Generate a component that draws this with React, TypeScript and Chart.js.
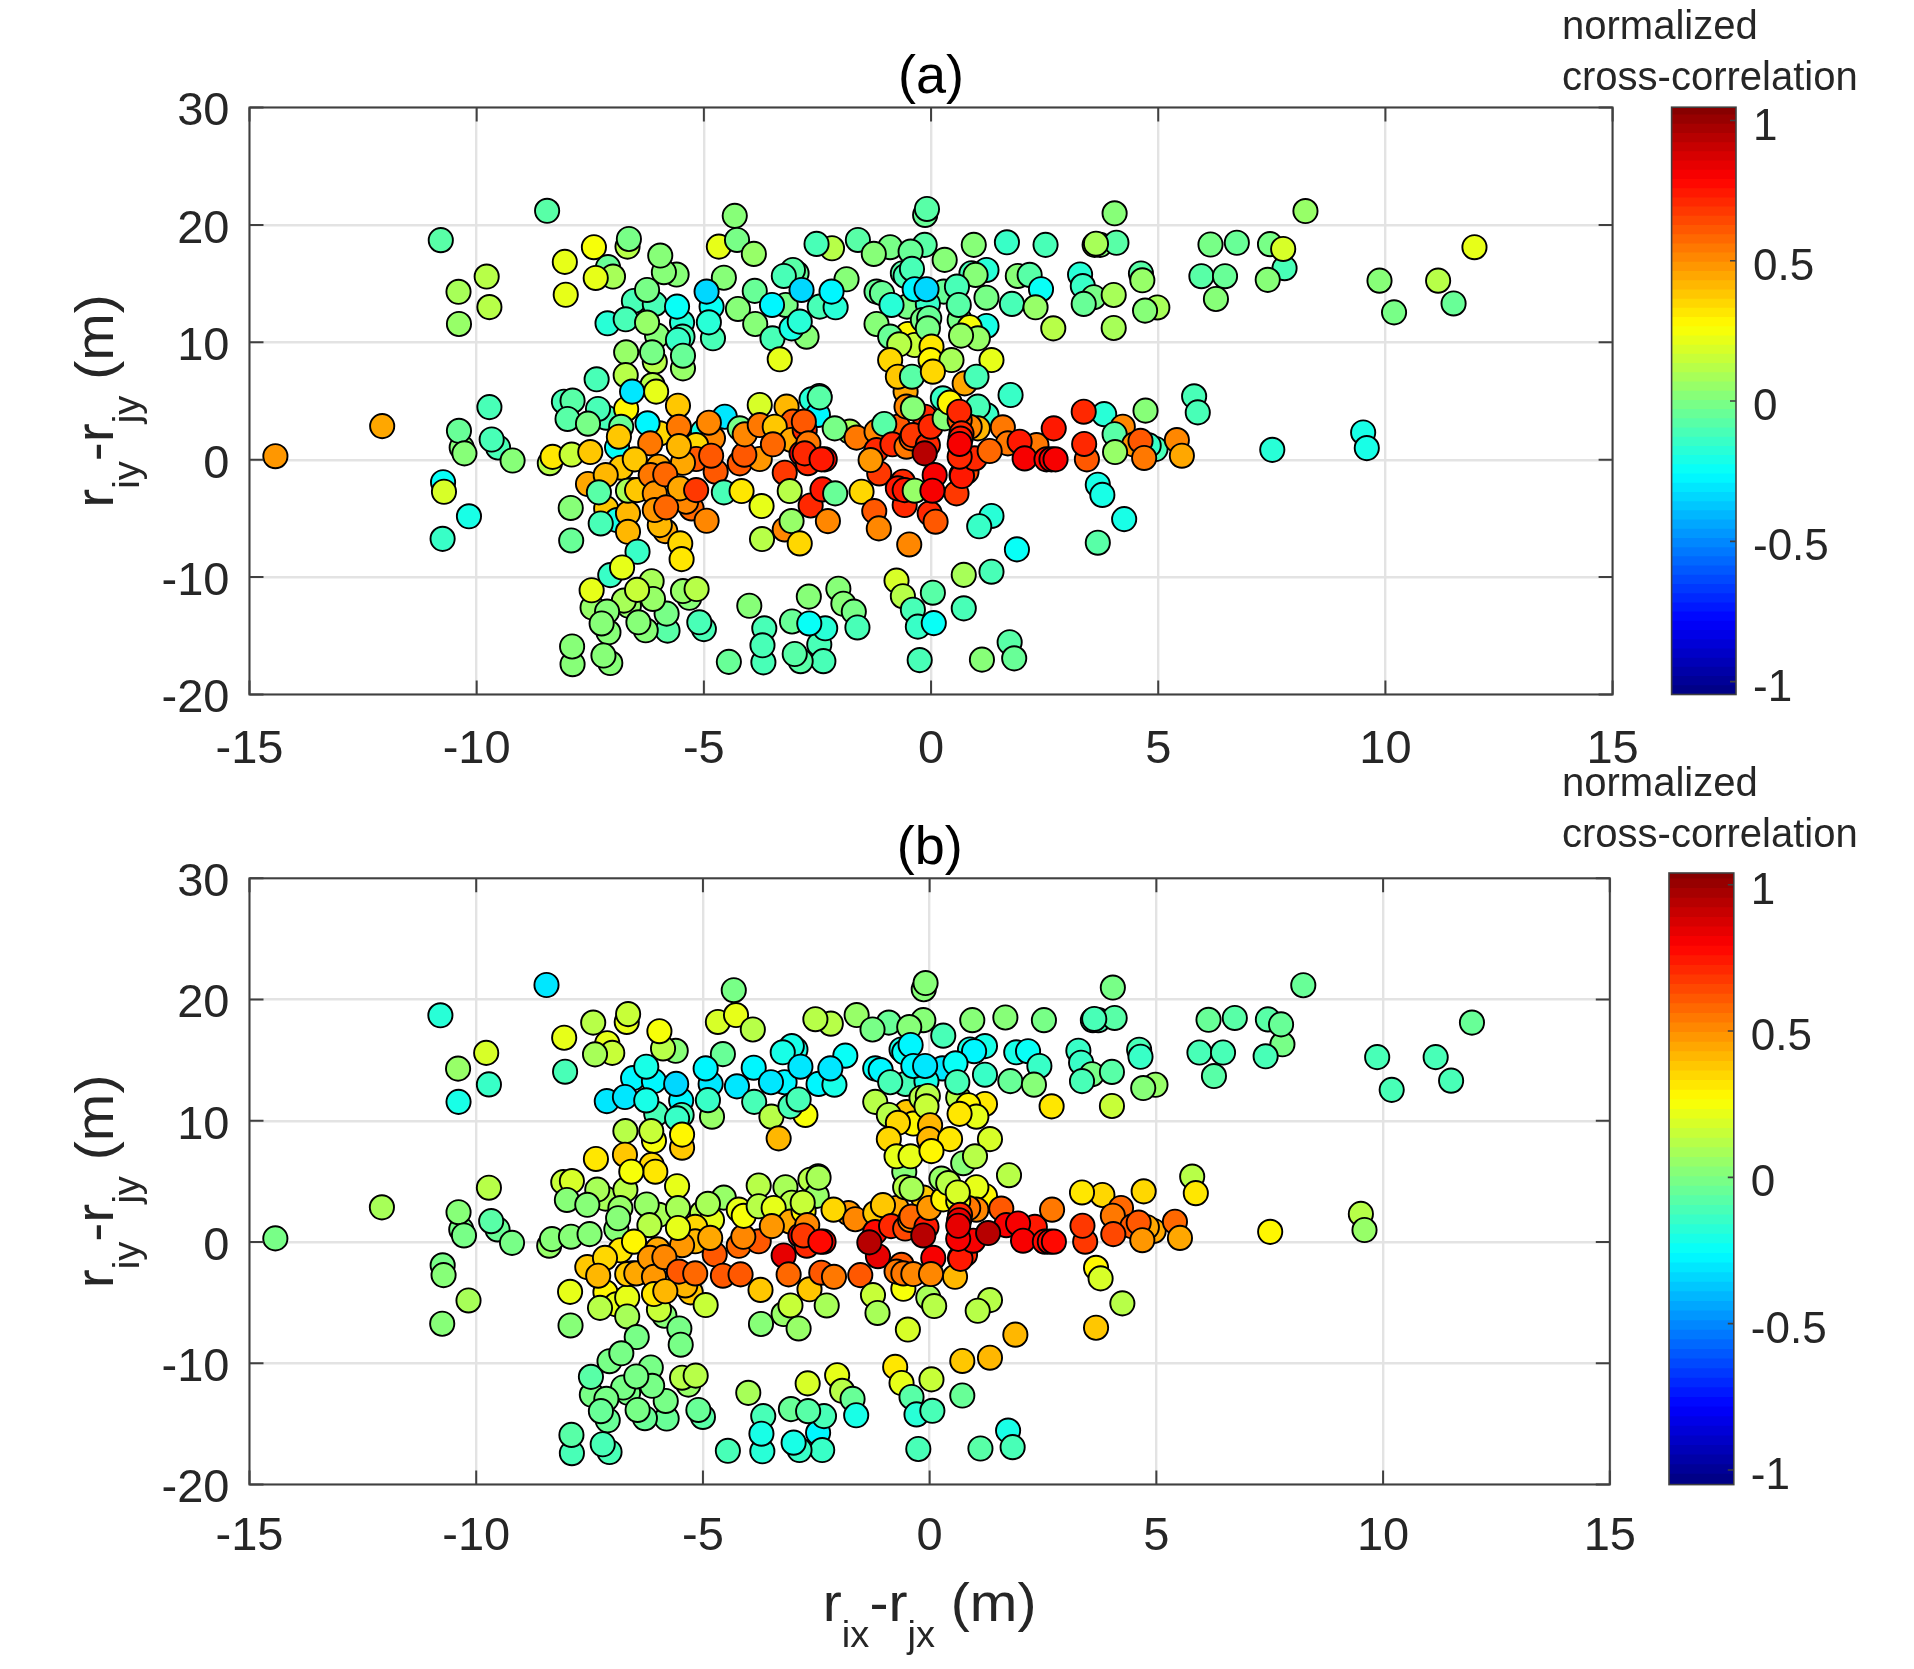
import React, { useEffect, useRef } from "react";
import { Chart, registerables } from "chart.js";

Chart.register(...registerables);

// Each row: [rix-rjx, riy-rjy, correlation in (a), correlation in (b)]
const farLeft: number[][] = [
  [-14.43,0.3,0.48,-0.03],[-12.08,2.86,0.44,0.08],[-10.79,18.7,-0.08,-0.18],[-9.78,15.6,0.1,0.17],[-10.4,14.3,0.07,0.05],
  [-9.72,13.0,0.1,-0.15],[-10.39,11.56,0.05,-0.22],[-9.72,4.48,-0.1,0.1],[-10.33,1.04,0.0,-0.02],[-10.39,2.46,-0.05,0.0],
  [-10.27,0.54,0.03,-0.02],[-9.53,1.04,-0.1,-0.05],[-9.67,1.72,-0.1,-0.07],[-9.21,-0.07,0.03,-0.02],[-10.74,-1.92,-0.25,-0.02],
  [-10.72,-2.73,0.17,0.02],[-10.17,-4.82,-0.2,0.07],[-10.75,-6.74,-0.15,0.02],[-8.45,21.2,-0.07,-0.32],[-8.06,16.85,0.2,0.2],
  [-8.04,14.05,0.2,-0.13],[-8.39,-0.3,0.1,0.05],[-8.33,0.24,0.3,0.0],[-7.91,0.44,0.15,0.02],[-7.93,-4.11,0.0,0.22],[-7.92,-6.88,-0.05,0.03],
];

const topCluster: number[][] = [
  [-7.42,18.1,0.23,0.12],[-6.68,18.15,0.12,0.22],[-6.65,18.8,-0.03,0.16],[-7.11,16.4,-0.05,0.2],[-7.0,15.6,0.08,0.15],
  [-7.38,15.48,0.2,0.08],[-5.6,15.77,0.03,0.03],[-5.88,15.97,0.02,0.1],[-5.96,17.39,0.03,0.23],[-4.56,15.5,0.03,-0.05],
  [-4.67,18.15,0.2,0.17],[-4.32,20.77,0.03,-0.03],[-4.27,18.72,-0.03,0.2],[-3.9,17.53,0.04,0.12],[-6.54,13.52,-0.12,-0.28],
  [-6.08,13.27,-0.13,-0.28],[-6.25,14.46,-0.02,-0.2],[-5.48,11.68,-0.18,-0.27],[-5.59,13.04,-0.26,-0.33],[-7.12,11.62,-0.18,-0.3],
  [-6.72,11.96,-0.13,-0.3],[-6.03,10.57,0.02,-0.12],[-6.25,11.68,0.05,-0.22],[-5.47,10.48,-0.1,-0.12],[-5.57,10.2,-0.15,-0.15],
  [-6.08,8.35,0.1,0.25],[-6.14,9.15,-0.03,0.15],[-6.71,9.15,0.06,0.12],[-5.46,7.78,0.05,0.38],[-5.46,8.86,-0.06,0.28],
  [-4.8,10.34,-0.13,0.04],[-4.83,13.04,-0.25,-0.3],[-4.89,11.7,-0.18,-0.15],[-4.94,14.32,-0.33,-0.28],[-4.25,12.84,0.0,-0.3],
  [-3.88,14.38,-0.05,-0.28],[-3.87,11.56,0.0,-0.13],[-3.49,10.34,-0.12,0.1],[-3.33,8.55,0.2,0.42],[-2.96,15.88,-0.05,-0.2],
  [-3.04,16.16,-0.07,-0.2],[-3.24,15.65,-0.1,-0.22],[-3.2,13.18,-0.02,-0.28],[-3.5,13.18,-0.27,-0.3],[-2.74,10.48,0.03,0.26],
  [-3.07,11.19,-0.2,-0.1],[-2.89,11.76,-0.18,-0.1],[-2.85,14.46,-0.35,-0.3],[-1.86,15.37,0.03,-0.25],[-2.18,18.01,0.13,0.1],
  [-2.52,18.38,-0.1,0.1],[-2.45,13.04,-0.1,-0.28],[-2.1,12.98,-0.17,-0.22],[-2.19,14.32,-0.27,-0.3],[-1.61,18.72,-0.07,0.05],
  [-0.9,18.1,-0.02,-0.05],[-1.26,17.53,0.0,-0.02],[-0.14,18.3,-0.07,0.0],[-0.45,17.73,-0.06,0.0],[-0.13,20.85,-0.05,0.0],
  [-0.09,21.36,-0.08,0.03],[-1.2,14.32,-0.05,-0.26],[-1.08,14.18,-0.05,-0.28],[-0.53,13.04,-0.02,-0.12],[-0.87,13.18,-0.17,-0.12],
  [-0.62,15.88,-0.07,-0.2],[-0.56,15.65,-0.12,-0.25],[-0.42,16.25,-0.13,-0.27],[-1.2,11.56,0.02,0.1],[0.28,14.32,-0.05,-0.3],
  [-0.07,13.27,-0.15,-0.2],[-0.36,14.52,-0.27,-0.28],[-0.1,14.52,-0.33,-0.3],[-0.51,10.71,0.27,0.38],[-0.18,11.9,-0.03,0.13],
  [-0.04,12.05,-0.04,0.1],[-0.36,9.77,0.15,0.27],[-0.9,10.48,-0.05,0.1],[-0.7,9.83,0.1,0.35],[-0.07,11.19,-0.02,0.15],
  [0.3,17.02,0.03,-0.12],[0.94,18.3,0.03,0.0],[1.67,18.52,-0.15,0.03],[2.52,18.3,-0.1,-0.03],[3.6,18.3,0.08,-0.08],
  [1.22,16.16,-0.18,-0.2],[0.89,15.88,-0.13,-0.22],[0.98,15.74,0.0,-0.27],[1.91,15.65,0.02,-0.22],[2.17,15.74,-0.07,-0.25],
  [2.42,14.52,-0.25,-0.15],[0.57,14.74,-0.13,-0.25],[0.63,11.9,-0.02,0.1],[0.61,13.18,-0.07,-0.12],[1.22,13.8,-0.02,-0.15],
  [1.78,13.27,-0.12,-0.05],[2.3,12.98,0.05,0.03],[2.69,11.19,0.12,0.3],[1.22,11.39,-0.2,0.3],[0.85,11.28,0.25,0.28],
  [1.03,10.34,0.05,0.2],[0.66,10.57,0.06,0.32],[-0.9,8.49,0.33,0.36],[0.01,9.63,0.3,0.4],[-0.01,8.49,0.28,0.42],[0.45,8.49,0.08,0.3],[1.33,8.49,0.2,0.17],
];

const rightCluster: number[][] = [
  [4.04,20.99,0.0,-0.03],[8.24,21.18,0.05,-0.05],[3.72,18.3,0.03,-0.1],[4.08,18.48,-0.07,-0.08],[3.63,18.4,0.08,-0.1],
  [6.15,18.33,-0.02,-0.06],[6.73,18.48,-0.04,-0.07],[7.46,18.36,-0.03,-0.08],[7.78,16.31,-0.13,-0.03],[7.75,17.95,0.17,-0.05],
  [7.41,15.32,0.03,-0.12],[11.96,18.1,0.2,-0.06],[9.87,15.25,0.0,-0.1],[11.16,15.25,0.13,-0.1],[10.19,12.55,-0.02,-0.13],
  [11.5,13.31,-0.05,-0.13],[5.95,15.63,-0.07,-0.1],[6.47,15.63,-0.06,-0.1],[6.27,13.69,0.0,-0.07],[3.28,15.78,-0.17,-0.15],
  [3.34,14.79,-0.15,-0.15],[3.58,13.84,-0.03,-0.03],[3.36,13.27,-0.06,-0.1],[4.02,14.03,0.08,-0.08],[4.62,15.86,-0.08,-0.13],
  [4.65,15.28,0.06,-0.15],[4.98,12.97,0.07,0.05],[4.71,12.7,0.02,0.02],[4.02,11.22,0.07,0.15],[3.81,3.88,-0.17,0.33],
  [4.72,4.18,0.02,0.33],[5.79,5.4,-0.13,0.12],[5.87,4.03,-0.13,0.3],[4.22,2.81,0.5,0.58],[4.04,2.17,-0.08,0.55],
  [4.94,0.91,-0.12,0.45],[4.79,1.22,-0.15,0.45],[4.47,1.29,0.48,0.6],[4.61,1.6,0.6,0.6],[4.05,0.65,0.05,0.65],
  [4.69,0.15,0.55,0.47],[5.41,1.67,0.5,0.58],[5.52,0.34,0.45,0.43],[7.51,0.84,-0.18,0.27],[9.51,2.32,-0.2,0.1],
  [9.59,0.99,-0.2,0.05],[3.67,-2.13,-0.2,0.28],[3.77,-3.0,-0.2,0.17],[4.25,-5.06,-0.2,0.1],[3.67,-7.07,-0.08,0.38],
  [1.89,-7.64,-0.23,0.4],[1.33,-4.79,-0.17,0.1],[1.06,-5.67,-0.15,0.13],[1.33,-9.54,-0.13,0.42],[0.72,-9.81,0.07,0.37],
];

const midLeft: number[][] = [
  [-8.08,4.94,-0.1,0.15],[-7.89,5.03,-0.08,0.18],[-8.0,3.47,-0.07,0.03],[-7.36,6.85,-0.1,0.32],[-7.15,3.58,-0.12,0.07],
  [-7.33,4.32,-0.13,0.07],[-7.55,3.07,-0.03,0.0],[-6.13,6.36,0.1,0.33],[-6.05,5.8,0.2,0.32],[-6.72,7.2,0.1,0.38],
  [-6.71,4.32,0.27,0.1],[-6.58,5.8,-0.3,0.25],[-5.57,4.6,0.38,0.2],[-6.82,2.8,-0.05,0.05],[-6.91,1.05,-0.25,0.03],
  [-6.87,1.96,0.37,0.03],[-5.97,2.24,0.35,0.08],[-6.24,3.1,-0.28,0.05],[-6.18,1.39,0.55,0.1],[-5.55,2.8,0.55,0.08],
  [-5.02,2.39,-0.2,0.1],[-4.54,3.66,-0.3,0.05],[-4.8,1.82,0.52,0.2],[-4.89,3.15,0.5,0.08],[-5.17,1.25,0.35,0.35],
  [-5.17,0.06,0.62,0.42],[-6.82,-0.68,0.38,0.3],[-7.5,0.65,0.38,0.03],[-6.0,-0.6,0.44,0.44],[-6.52,0.03,0.37,0.27],
  [-5.46,-0.26,0.45,0.47],[-5.55,1.16,0.42,0.2],[-4.74,-1.02,0.6,0.6],[-4.84,0.34,0.62,0.45],[-4.21,-0.31,0.6,0.58],
  [-4.21,2.67,-0.02,0.2],[-3.77,0.06,0.47,0.62],[-4.11,0.43,0.6,0.52],[-4.1,2.16,0.5,0.26],[-3.77,4.66,0.17,0.1],
  [-3.18,4.52,0.42,0.08],[-3.04,3.24,0.6,0.12],[-3.77,2.95,0.55,0.12],[-3.44,2.81,0.37,0.2],[-3.07,1.68,0.45,0.45],
  [-3.48,1.31,0.58,0.48],[-2.85,0.54,0.8,0.8],[-3.22,-1.11,0.67,0.85],[-2.46,5.43,-0.08,0.08],[-2.63,5.14,-0.18,0.1],
  [-2.49,3.81,-0.27,0.05],[-2.45,5.31,-0.08,0.08],[-2.78,2.53,0.7,0.28],[-2.8,3.24,0.6,0.15],[-2.7,1.39,0.55,0.5],
  [-2.71,-0.3,0.7,0.7],[-2.78,0.54,0.72,0.68],[-2.34,0.03,0.78,0.78],[-2.41,0.03,0.75,0.78],[-1.79,2.39,0.07,0.46],
  [-2.12,2.67,-0.02,0.33],[-1.64,1.88,0.55,0.5],
];

const midLower: number[][] = [
  [-7.55,-2.07,0.45,0.38],[-7.16,-1.31,0.42,0.36],[-7.15,-4.15,0.38,0.27],[-6.91,-5.14,-0.2,0.2],[-7.31,-2.78,-0.08,0.42],
  [-6.67,-4.57,0.42,0.2],[-6.67,-6.14,0.4,0.07],[-7.27,-5.43,-0.1,0.12],[-6.46,-7.84,-0.15,-0.03],[-7.06,-9.83,-0.15,-0.03],
  [-6.8,-9.18,0.2,-0.03],[-6.56,-2.59,0.12,0.38],[-6.67,-2.64,0.08,0.37],[-6.47,-2.59,0.38,0.45],[-6.17,-1.31,0.53,0.48],
  [-6.08,-2.87,0.47,0.47],[-5.85,-1.25,0.57,0.5],[-5.85,-6.08,0.43,0.03],[-5.97,-5.57,0.42,0.14],[-5.27,-4.15,0.58,0.37],
  [-6.08,-4.29,0.46,0.3],[-5.39,-3.58,0.52,0.4],[-5.53,-2.44,0.44,0.6],[-5.17,-2.59,0.68,0.58],[-5.83,-4.06,0.58,0.4],
  [-4.94,-5.2,0.5,0.16],[-5.52,-7.13,0.34,-0.03],[-5.49,-8.47,0.3,-0.02],[-4.56,-2.78,-0.12,0.6],[-4.17,-2.67,0.3,0.62],
  [-3.73,-3.95,0.2,0.37],[-3.72,-6.76,0.13,0.0],[-3.22,-5.94,0.5,0.06],[-3.07,-5.23,0.06,0.15],[-3.11,-2.67,0.1,0.58],
  [-2.89,-7.13,0.35,0.05],[-2.65,-3.9,0.7,0.38],[-2.27,-5.23,0.52,0.08],[-2.39,-2.53,0.75,0.62],[-2.11,-2.87,-0.05,0.55],
  [-1.53,-2.73,0.33,0.6],[-1.25,-4.38,0.6,0.15],[-1.15,-5.85,0.5,0.07],[-0.48,-7.22,0.52,0.18],
];

const midCentre: number[][] = [
  [-0.56,5.8,0.45,0.03],[-0.73,7.07,0.38,0.2],[-0.42,7.07,-0.08,0.2],[0.04,7.5,0.35,0.28],[0.74,6.5,0.45,0.0],
  [1.0,7.07,-0.1,0.1],[-1.2,2.39,0.5,0.38],[-0.73,2.81,0.6,0.45],[-1.03,3.04,-0.07,0.38],[-1.2,0.82,0.7,0.78],
  [-0.85,1.31,0.7,0.7],[-1.14,-1.17,0.68,0.85],[-1.33,-0.03,0.47,0.95],[-0.54,1.11,0.55,0.65],[-0.43,1.82,0.62,0.5],
  [-0.14,3.66,0.7,0.38],[-0.54,4.52,0.5,0.12],[-0.4,4.38,0.0,0.07],[-0.4,2.1,0.68,0.58],[-0.07,1.25,0.72,0.75],
  [-0.01,2.81,0.72,0.48],[-0.14,0.54,0.92,0.92],[-0.62,-1.88,0.72,0.62],[-0.58,-3.86,0.72,0.26],[-0.73,-2.44,0.75,0.55],
  [-0.58,-2.59,0.73,0.55],[-0.36,-2.64,0.05,0.52],[0.08,-1.31,0.82,0.8],[-0.03,-4.57,0.7,0.08],[0.1,-5.28,0.6,0.1],
  [0.56,-2.87,0.68,0.42],[0.03,-2.64,0.8,0.5],[0.3,3.52,0.03,0.28],[0.26,5.23,-0.15,0.05],[0.41,4.86,0.28,0.12],
  [1.22,3.8,-0.14,0.27],[1.03,4.52,-0.12,0.2],[1.03,2.67,0.4,0.52],[0.85,2.8,0.52,0.55],[0.63,3.38,0.6,0.22],
  [0.62,4.09,0.72,0.18],[0.78,-1.02,0.65,0.7],[0.67,-1.31,0.75,0.72],[0.68,-1.39,0.75,0.75],[0.96,0.11,0.7,0.8],
  [0.63,0.26,0.7,0.82],[0.67,2.24,0.7,0.7],[0.65,1.8,0.75,0.85],[0.63,1.34,0.8,0.85],[1.58,2.76,0.55,0.62],
  [1.69,1.39,0.55,0.8],[1.29,0.74,0.58,0.92],[2.32,1.25,0.55,0.75],[1.95,1.53,0.75,0.82],[2.06,0.11,0.82,0.82],
  [2.54,0.03,0.78,0.78],[2.65,0.03,0.82,0.78],[2.74,0.03,0.82,0.78],[2.7,2.67,0.75,0.55],[3.36,4.09,0.7,0.3],
  [3.43,0.03,0.62,0.68],[3.37,1.34,0.72,0.68],[1.75,5.51,-0.15,0.1],
];

const bottomCluster: number[][] = [
  [0.04,-11.33,-0.07,0.15],[-0.76,-10.3,0.18,0.3],[-0.62,-11.63,0.1,0.2],[-0.4,-12.78,-0.1,-0.08],[-0.29,-14.22,-0.15,-0.18],
  [0.06,-13.92,-0.23,-0.13],[0.72,-12.66,-0.12,-0.05],[1.73,-15.55,-0.08,-0.2],[1.83,-16.92,-0.05,-0.13],[1.12,-17.03,0.0,-0.08],
  [-0.25,-17.07,-0.1,-0.13],[-2.46,-15.74,-0.1,-0.28],[-2.37,-17.16,-0.1,-0.15],[-2.33,-14.36,-0.18,-0.1],[-3.06,-13.78,-0.05,-0.04],
  [-2.68,-13.95,-0.23,-0.07],[-2.87,-17.16,-0.08,-0.15],[-3.0,-16.55,-0.07,-0.2],[-2.04,-10.99,0.03,0.2],[-1.93,-12.27,0.03,0.1],
  [-1.7,-12.94,-0.03,-0.04],[-1.62,-14.29,-0.1,-0.2],[-2.69,-11.66,0.0,0.18],[-4.0,-12.44,0.0,0.08],[-3.67,-14.36,-0.1,-0.1],
  [-3.69,-17.26,-0.1,-0.18],[-3.71,-15.81,-0.1,-0.2],[-4.45,-17.22,-0.05,-0.13],[-5.0,-14.43,-0.13,-0.08],[-5.1,-13.85,-0.1,-0.05],
  [-5.32,-11.76,0.03,0.05],[-5.46,-11.19,0.05,0.1],[-5.16,-11.02,0.12,0.1],[-5.8,-14.56,-0.07,-0.06],[-5.82,-13.11,-0.03,-0.01],
  [-6.15,-10.35,0.07,-0.03],[-6.12,-11.86,0.05,-0.02],[-6.65,-12.44,0.05,-0.02],[-6.76,-12.0,0.08,-0.02],[-6.47,-11.09,0.15,-0.03],
  [-6.28,-14.53,0.0,-0.05],[-6.44,-13.85,0.03,-0.03],[-7.45,-12.6,0.05,-0.03],[-7.13,-12.94,0.03,-0.03],[-7.47,-11.12,0.22,-0.07],
  [-7.1,-14.7,0.02,-0.06],[-7.25,-13.95,0.0,-0.04],[-7.89,-17.42,0.02,-0.1],[-7.9,-15.91,0.02,-0.09],[-7.06,-17.32,0.03,-0.13],
  [-7.21,-16.68,0.0,-0.12],
];

const pointGroups = [topCluster, farLeft, bottomCluster, rightCluster, midLeft, midLower, midCentre];

const xTickValues = [-15, -10, -5, 0, 5, 10, 15];
const yTickValues = [-20, -10, 0, 10, 20, 30];
const colorbarTicks = [-1, -0.5, 0, 0.5, 1];
const colorLimit = 1.05;
const colorLevels = 64;

const FONT = "'Liberation Sans', Arial, sans-serif";
const AXIS = "#404040";
const TEXT = "#262626";

function jet(f: number): string {
  const ramp = (d: number) => Math.max(0, Math.min(1, 1.5 - Math.abs(4 * f - d)));
  const c = (v: number) => Math.round(v * 255);
  return `rgb(${c(ramp(3))},${c(ramp(2))},${c(ramp(1))})`;
}
function corrColor(v: number): string {
  const f = (Math.max(-colorLimit, Math.min(colorLimit, v)) + colorLimit) / (2 * colorLimit);
  const level = Math.min(colorLevels - 1, Math.floor(f * colorLevels));
  return jet((level + 0.5) / colorLevels);
}

type Run = { t: string; sub?: boolean };
const yTitleRuns: Run[] = [{ t: "r" }, { t: "iy", sub: true }, { t: "-r" }, { t: "jy", sub: true }, { t: " (m)" }];
const xTitleRuns: Run[] = [{ t: "r" }, { t: "ix", sub: true }, { t: "-r" }, { t: "jx", sub: true }, { t: " (m)" }];

function drawRuns(ctx: CanvasRenderingContext2D, runs: Run[], cx: number, base: number, size: number, subSize: number, subDrop: number) {
  let total = 0;
  const widths = runs.map((r) => {
    ctx.font = `${r.sub ? subSize : size}px ${FONT}`;
    const w = ctx.measureText(r.t).width;
    total += w;
    return w;
  });
  ctx.save();
  ctx.translate(cx, base);
  ctx.scale(1.058, 1);
  let x = -total / 2;
  ctx.textAlign = "left";
  ctx.textBaseline = "alphabetic";
  ctx.fillStyle = TEXT;
  runs.forEach((r, i) => {
    ctx.font = `${r.sub ? subSize : size}px ${FONT}`;
    ctx.fillText(r.t, x, r.sub ? subDrop : 0);
    x += widths[i];
  });
  ctx.restore();
}

const W = 1914;

type PanelProps = {
  top: number;
  height: number;
  areaLeft: number;
  areaRight: number;
  areaTop: number;
  areaBottom: number;
  corrIndex: number;
  title: string;
  titleY: number;
  showXTitle: boolean;
  xTitleY: number;
  xTickGap: number;
};

function Panel(p: PanelProps) {
  const ref = useRef<HTMLCanvasElement>(null);
  useEffect(() => {
    const rows = pointGroups.flat();
    const chart = new Chart(ref.current!, {
      type: "scatter",
      data: {
        datasets: [
          {
            data: rows.map((r) => ({ x: r[0], y: r[1] })),
            pointRadius: 12.1,
            pointHoverRadius: 12.1,
            pointBorderWidth: 1.9,
            pointBorderColor: "#000000",
            pointBackgroundColor: rows.map((r) => corrColor(r[p.corrIndex])),
          },
        ],
      },
      options: {
        responsive: false,
        animation: false,
        devicePixelRatio: 1,
        layout: { padding: { left: 0, top: p.areaTop - p.top, right: W - p.areaRight, bottom: 0 } },
        plugins: { legend: { display: false }, tooltip: { enabled: false } },
        scales: {
          x: {
            type: "linear",
            min: -15,
            max: 15,
            afterBuildTicks: (s: any) => { s.ticks = xTickValues.map((value) => ({ value })); },
            afterFit: (s: any) => { s.height = p.height - (p.areaBottom - p.top); },
            ticks: { autoSkip: false, maxRotation: 0, padding: p.xTickGap, color: TEXT, font: { family: FONT, size: 47 }, callback: (v: any) => String(v) },
            grid: { color: "#e3e3e3", lineWidth: 2.4, drawTicks: false },
            border: { display: false },
          },
          y: {
            type: "linear",
            min: -20,
            max: 30,
            afterBuildTicks: (s: any) => { s.ticks = yTickValues.map((value) => ({ value })); },
            afterFit: (s: any) => { s.width = p.areaLeft; },
            ticks: { autoSkip: false, padding: 20, labelOffset: 5, color: TEXT, font: { family: FONT, size: 47 }, callback: (v: any) => String(v) },
            grid: { color: "#e3e3e3", lineWidth: 2.4, drawTicks: false },
            border: { display: false },
          },
        },
      },
      plugins: [
        {
          id: "matlabFrame",
          afterDraw(c: any) {
            const { ctx, chartArea: a, scales } = c;
            ctx.save();
            ctx.strokeStyle = AXIS;
            ctx.lineWidth = 2;
            ctx.strokeRect(a.left, a.top, a.right - a.left, a.bottom - a.top);
            const len = 14;
            ctx.beginPath();
            xTickValues.forEach((v) => {
              const x = scales.x.getPixelForValue(v);
              ctx.moveTo(x, a.bottom); ctx.lineTo(x, a.bottom - len);
              ctx.moveTo(x, a.top); ctx.lineTo(x, a.top + len);
            });
            yTickValues.forEach((v) => {
              const y = scales.y.getPixelForValue(v);
              ctx.moveTo(a.left, y); ctx.lineTo(a.left + len, y);
              ctx.moveTo(a.right, y); ctx.lineTo(a.right - len, y);
            });
            ctx.stroke();
            ctx.fillStyle = "#000000";
            ctx.font = `54px ${FONT}`;
            ctx.textAlign = "center";
            ctx.textBaseline = "alphabetic";
            ctx.fillText(p.title, (a.left + a.right) / 2, p.titleY - p.top);
            ctx.save();
            ctx.translate(113, (a.top + a.bottom) / 2);
            ctx.rotate(-Math.PI / 2);
            drawRuns(ctx, yTitleRuns, 0, 0, 54, 36, 26);
            ctx.restore();
            if (p.showXTitle) {
              drawRuns(ctx, xTitleRuns, (a.left + a.right) / 2, p.xTitleY - p.top, 54, 36, 26);
            }
            ctx.restore();
          },
        },
      ],
    } as any);
    return () => chart.destroy();
  }, []);
  return <canvas ref={ref} width={W} height={p.height} style={{ position: "absolute", left: 0, top: p.top, width: W, height: p.height }} />;
}

type BarProps = {
  top: number;
  height: number;
  barLeft: number;
  barRight: number;
  barTop: number;
  barBottom: number;
  limTop: number;
  limBottom: number;
  labelY: number[];
};

const colorbarTitleLines = ["normalized", "cross-correlation"];

function ColorBar(p: BarProps) {
  const ref = useRef<HTMLCanvasElement>(null);
  useEffect(() => {
    const levels = Array.from({ length: colorLevels }, (_, i) => i);
    const step = (2 * colorLimit) / colorLevels;
    const left = 1540;
    const chart = new Chart(ref.current!, {
      type: "bar",
      data: {
        labels: ["c"],
        datasets: levels.map((i) => ({
          data: [[-colorLimit + i * step, -colorLimit + (i + 1) * step + 0.003]],
          backgroundColor: jet((i + 0.5) / colorLevels),
          borderWidth: 0,
          barPercentage: 1,
          categoryPercentage: 1,
          grouped: false,
        })),
      },
      options: {
        responsive: false,
        animation: false,
        devicePixelRatio: 1,
        layout: { padding: { left: p.barLeft - left, top: p.barTop - p.top, right: 0, bottom: p.top + p.height - p.barBottom } },
        plugins: { legend: { display: false }, tooltip: { enabled: false } },
        scales: {
          x: { display: false },
          y: {
            position: "right",
            min: p.limBottom,
            max: p.limTop,
            afterBuildTicks: (s: any) => { s.ticks = colorbarTicks.map((value) => ({ value })); },
            afterFit: (s: any) => { s.width = W - p.barRight - 0; },
            ticks: { autoSkip: false, padding: 9, labelOffset: 7, color: TEXT, font: { family: FONT, size: 44 }, callback: (v: any) => String(v) },
            grid: { display: false },
            border: { display: false },
          },
        },
      },
      plugins: [
        {
          id: "colorbarFrame",
          afterDraw(c: any) {
            const { ctx, chartArea: a, scales } = c;
            ctx.save();
            ctx.strokeStyle = AXIS;
            ctx.lineWidth = 1.6;
            ctx.strokeRect(a.left, a.top, a.right - a.left, a.bottom - a.top);
            ctx.beginPath();
            colorbarTicks.forEach((v) => {
              const y = scales.y.getPixelForValue(v);
              ctx.moveTo(a.right, y); ctx.lineTo(a.right - 6, y);
            });
            ctx.stroke();
            ctx.fillStyle = TEXT;
            ctx.font = `40px ${FONT}`;
            ctx.textAlign = "left";
            ctx.textBaseline = "alphabetic";
            colorbarTitleLines.forEach((line, i) => ctx.fillText(line, 1562 - left, p.labelY[i] - p.top));
            ctx.restore();
          },
        },
      ],
    } as any);
    return () => chart.destroy();
  }, []);
  return <canvas ref={ref} width={W - 1540} height={p.height} style={{ position: "absolute", left: 1540, top: p.top, width: W - 1540, height: p.height }} />;
}

export default function App() {
  return (
    <div style={{ position: "absolute", left: 0, top: 0, width: 1914, height: 1669, overflow: "hidden", background: "#fff" }}>
      <Panel top={0} height={790} areaLeft={249.5} areaRight={1612.6} areaTop={107.5} areaBottom={694.5} corrIndex={2} title="(a)" titleY={93} showXTitle={false} xTitleY={0} xTickGap={27} />
      <Panel top={790} height={879} areaLeft={249.5} areaRight={1609.8} areaTop={878.3} areaBottom={1484.5} corrIndex={3} title="(b)" titleY={864} showXTitle={true} xTitleY={1621} xTickGap={24} />
      <ColorBar top={0} height={780} barLeft={1671.6} barRight={1736} barTop={107.2} barBottom={694.5} limTop={1.0475} limBottom={-1.046} labelY={[39, 90]} />
      <ColorBar top={760} height={760} barLeft={1669} barRight={1733.8} barTop={873} barBottom={1485} limTop={1.04} limBottom={-1.05} labelY={[796, 847]} />
    </div>
  );
}
